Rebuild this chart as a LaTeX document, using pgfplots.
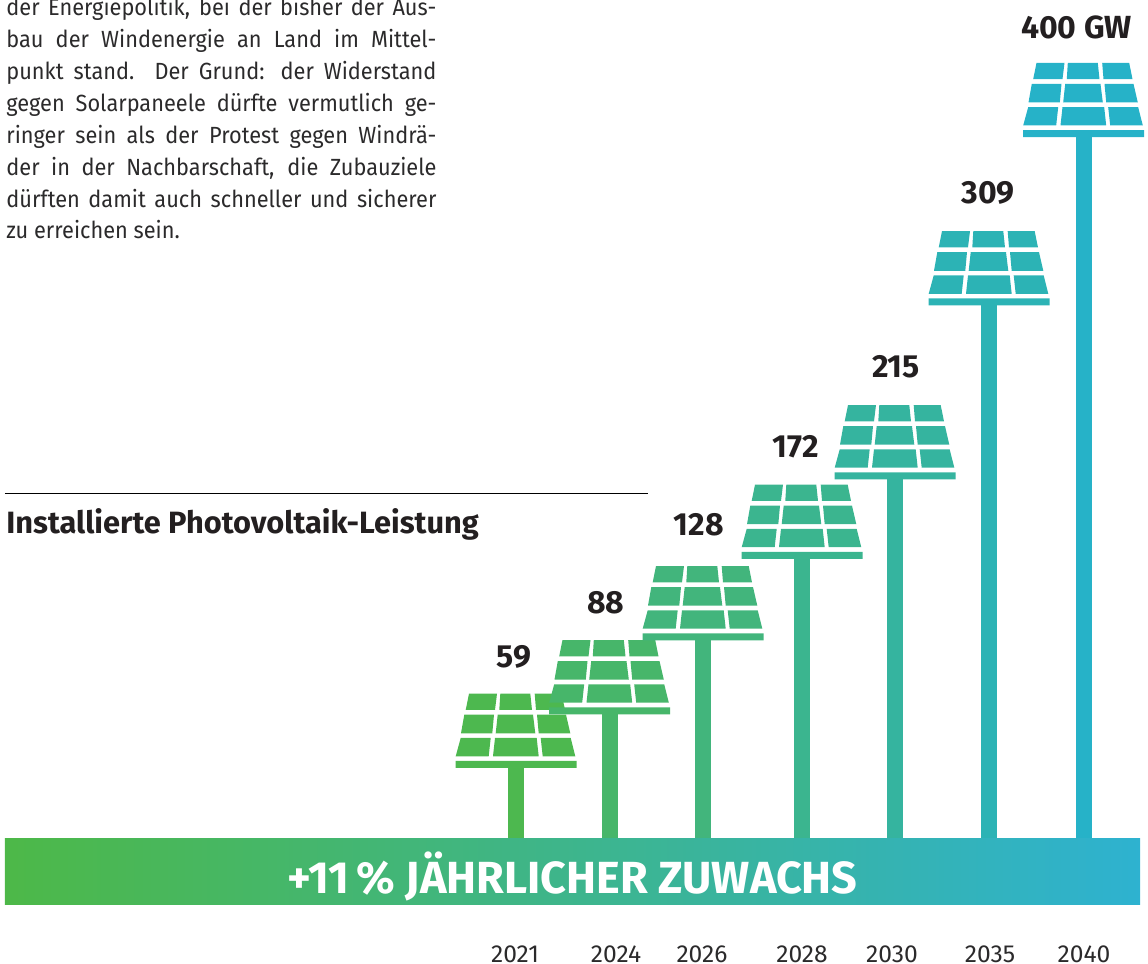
\documentclass[border=0pt]{standalone}
\usepackage{fontspec}
\setmainfont{Fira Sans}
\newfontfamily\bodyfont[FakeStretch=0.93]{Fira Sans}
\usepackage{pgfplots}
\pgfplotsset{compat=1.18}

% one reference pixel = 0.5pt
\definecolor{c59}{HTML}{4DB84F}
\definecolor{c88}{HTML}{47B66A}
\definecolor{c128}{HTML}{42B57C}
\definecolor{c172}{HTML}{3BB58F}
\definecolor{c215}{HTML}{35B49F}
\definecolor{c309}{HTML}{2CB3B5}
\definecolor{c400}{HTML}{26B2C8}
\definecolor{bandl}{HTML}{4DB848}
\definecolor{bandm}{HTML}{3BB494}
\definecolor{bandr}{HTML}{2EB2D0}
\definecolor{txt}{HTML}{2B2A2B}
\definecolor{num}{HTML}{231F20}

% corners of one cell, bottom left, bottom right, top left, top right, y bottom, y top
\newcommand\cell[6]{%
  \pgfpathmoveto{\pgfpoint{#1*.5pt}{#5*.5pt}}%
  \pgfpathlineto{\pgfpoint{#2*.5pt}{#5*.5pt}}%
  \pgfpathlineto{\pgfpoint{#4*.5pt}{#6*.5pt}}%
  \pgfpathlineto{\pgfpoint{#3*.5pt}{#6*.5pt}}%
  \pgfpathclose}
\pgfdeclareplotmark{solar}{%
  \cell{-60.3}{-27.3}{-55.3}{-25.3}{11.7}{30}%
  \cell{-23}{22.7}{-21}{20.7}{11.7}{30}%
  \cell{26.7}{59.3}{24.7}{54.7}{11.7}{30}%
  \cell{-55}{-23.7}{-51.7}{-22}{34.7}{53.3}%
  \cell{-20.3}{19.3}{-18.3}{17}{34.7}{53.3}%
  \cell{22.7}{54.3}{21}{50}{34.7}{53.3}%
  \cell{-50.3}{-21}{-47}{-19}{58}{74.3}%
  \cell{-16.7}{16}{-15.7}{14.3}{58}{74.3}%
  \cell{20}{49}{18.7}{45.7}{58}{74.3}%
  \pgfusepathqfill
  \pgfsetcornersarced{\pgfpoint{.8pt}{.8pt}}%
  \pgfpathmoveto{\pgfpoint{0pt}{0pt}}%
  \pgfpathlineto{\pgfpoint{-30.25pt}{0pt}}%
  \pgfpathlineto{\pgfpoint{-30.25pt}{3.5pt}}%
  \pgfpathlineto{\pgfpoint{30.25pt}{3.5pt}}%
  \pgfpathlineto{\pgfpoint{30.25pt}{0pt}}%
  \pgfpathclose
  \pgfusepathqfill
}

\pgfplotsset{
  pole/.style={ybar, bar width=8pt, bar shift=0pt, draw=none, fill=#1,
    mark=solar, mark options={draw=none, fill=#1}},
}
\newcommand\val[3]{\node[font=\fontsize{16}{18}\selectfont\bfseries, text=num, inner sep=0pt]
  at (rel axis cs:{#1/1148},{1-#2/964}) {#3};}
\newcommand\bl[1]{\makebox[215pt][s]{#1}\\}

\begin{document}
\begin{tikzpicture}
\useasboundingbox (0,0) rectangle (574pt,482pt);
\begin{axis}[
    at={(0,0)}, anchor=south west,
    scale only axis,
    width=574pt, height=482pt,
    xmin=0, xmax=1148,
    ymin=-46.97, ymax=474.14,
    clip=false,
    axis line style={draw=none},
    major tick length=0pt,
    ytick=\empty,
    xtick={515,616,702,802,892,990,1084},
    xticklabels={2021,2024,2026,2028,2030,2035,2040},
    xticklabel style={font=\fontsize{12.3}{14}\selectfont, text=txt, anchor=center, yshift=5pt},
]
\addplot[pole=c59] coordinates {(516,59)};
\addplot[pole=c88] coordinates {(609.5,88)};
\addplot[pole=c128] coordinates {(703,128)};
\addplot[pole=c172] coordinates {(802,172)};
\addplot[pole=c215] coordinates {(895,215)};
\addplot[pole=c309] coordinates {(989,309)};
\addplot[pole=c400] coordinates {(1083.5,400)};

\fill[left color=bandl, middle color=bandm, right color=bandr, draw=none]
  (rel axis cs:{5/1148},{1-839/964}) rectangle (rel axis cs:{1140/1148},{1-905/964});
\node[font=\fontsize{22.5}{26}\selectfont\bfseries, text=white, inner sep=0pt]
  at (rel axis cs:{572.5/1148},{1-877/964}) {+11\,\% JÄHRLICHER ZUWACHS};

\val{514}{657}{59}
\val{606}{603}{88}
\val{699}{525}{128}
\val{796}{447}{172}
\val{896}{367}{215}
\val{988}{193}{309}
\val{1076.5}{27}{400 GW}

\draw[line width=.5pt, black] (rel axis cs:{5/1148},{1-494/964}) -- (rel axis cs:{648/1148},{1-494/964});
\node[anchor=west, font=\fontsize{15.4}{18}\selectfont\bfseries, text=num, inner sep=0pt]
  at (rel axis cs:{6/1148},{1-524.5/964}) {Installierte Photovoltaik-Leistung};

\node[anchor=north west, inner sep=0pt, align=left, text=txt,
      font=\bodyfont\fontsize{11.7}{15.95}\selectfont]
  at (rel axis cs:{6/1148},{1+3/964}) {%
  \bl{der Energiepolitik, bei der bisher der Aus-}
  \bl{bau der Windenergie an Land im Mittel-}
  \bl{punkt stand. Der Grund: der Widerstand}
  \bl{gegen Solarpaneele dürfte vermutlich ge-}
  \bl{ringer sein als der Protest gegen Windrä-}
  \bl{der in der Nachbarschaft, die Zubauziele}
  \bl{dürften damit auch schneller und sicherer}
  zu erreichen sein.};
\end{axis}
\end{tikzpicture}
\end{document}
